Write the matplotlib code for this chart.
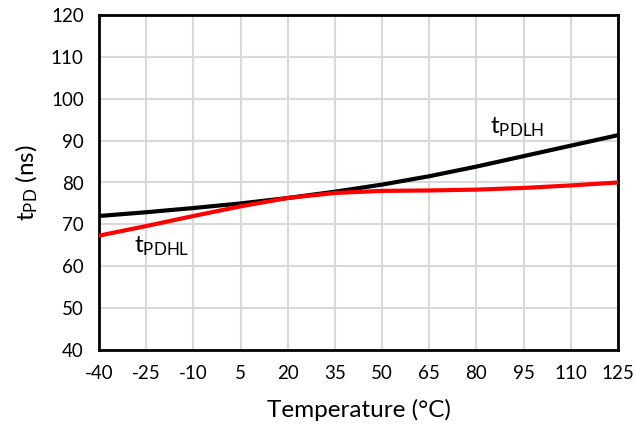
import matplotlib
matplotlib.use('Agg')
import matplotlib.pyplot as plt
import numpy as np

plt.rcParams['font.family'] = ['Lato', 'DejaVu Sans']
plt.rcParams['mathtext.fontset'] = 'custom'
plt.rcParams['mathtext.rm'] = 'Lato'
plt.rcParams['mathtext.it'] = 'Lato'
plt.rcParams['axes.unicode_minus'] = False

# Temperature (°C)
temps = [-40, -25, -10, 5, 20, 35, 50, 65, 80, 95, 110, 125]
tpdlh = [72.0, 72.9, 73.9, 75.0, 76.3, 77.8, 79.5, 81.5, 83.8, 86.3, 88.8, 91.3]
tpdhl = [67.3, 69.6, 72.0, 74.3, 76.3, 77.5, 78.0, 78.1, 78.3, 78.7, 79.3, 80.0]

fig = plt.figure(figsize=(6.36, 4.4), dpi=100)
ax = fig.add_axes([99/636, 90/440, 519/636, 335/440])

ax.plot(temps, tpdlh, color='black', lw=3, solid_joinstyle='round', zorder=3)
ax.plot(temps, tpdhl, color='#ff0000', lw=3, solid_joinstyle='round', zorder=3)

ax.set_xlim(-40, 125)
ax.set_ylim(40, 120)
ax.set_xticks(temps)
ax.set_yticks(np.arange(40, 121, 10))
ax.grid(True, color='#d9d9d9', lw=1.5)
ax.set_axisbelow(True)
for s in ax.spines.values():
    s.set_linewidth(2)
    s.set_color('black')
ax.tick_params(length=0, labelsize=13.5, pad=11)

ax.set_xlabel('Temperature (°C)', fontsize=17.5, labelpad=12)
ax.set_ylabel(r'$\mathregular{t_{PD}}$ (ns)', fontsize=17.5, labelpad=8)

ax.text(93, 90.5, r'$\mathregular{t_{PDLH}}$', fontsize=17.5, ha='center', va='bottom')
ax.text(-20, 67.5, r'$\mathregular{t_{PDHL}}$', fontsize=17.5, ha='center', va='top')

fig.savefig('out.png', dpi=100)
